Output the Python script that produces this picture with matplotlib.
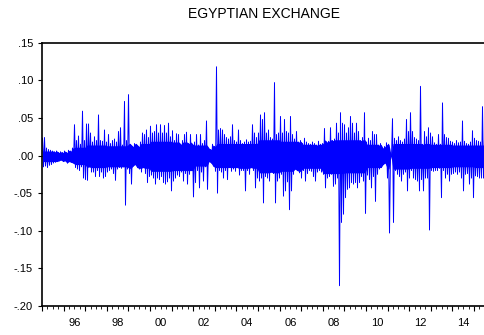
import numpy as np
import matplotlib
matplotlib.use("Agg")
import matplotlib.pyplot as plt
from matplotlib.ticker import MultipleLocator, NullFormatter

plt.rcParams['font.family'] = ['Liberation Sans', 'DejaVu Sans']

title = "EGYPTIAN EXCHANGE"

# Daily returns summarised as high / low per consecutive ~34-day window,
# starting January 1995.
start_year = 1995.0
window_years = 2 / 21.6

window_high = [
    # 1995 - 1997
    0.023, 0.024, 0.010, 0.008, 0.007, 0.006, 0.005, 0.006, 0.004, 0.005,
    0.004, 0.006, 0.004, 0.007, 0.006, 0.010, 0.041, 0.020, 0.026, 0.015,
    0.059, 0.020, 0.042, 0.042, 0.030, 0.018, 0.025, 0.020, 0.054, 0.020,
    0.019,
    # 1997 - 2000
    0.034, 0.018, 0.028, 0.016, 0.020, 0.022, 0.018, 0.032, 0.037, 0.014,
    0.072, 0.020, 0.081, 0.015, 0.012, 0.016, 0.015, 0.012, 0.018, 0.030,
    0.028, 0.034, 0.024, 0.039, 0.030, 0.032, 0.041, 0.030, 0.041, 0.030,
    0.040,
    # 2000 - 2003
    0.030, 0.043, 0.025, 0.033, 0.020, 0.029, 0.028, 0.015, 0.020, 0.028,
    0.031, 0.016, 0.028, 0.015, 0.018, 0.028, 0.014, 0.028, 0.016, 0.020,
    0.046, 0.010, 0.008, 0.015, 0.012, 0.118, 0.034, 0.036, 0.034, 0.028,
    0.024, 0.022,
    # 2003 - 2006
    0.025, 0.041, 0.020, 0.018, 0.034, 0.020, 0.016, 0.018, 0.021, 0.018,
    0.019, 0.041, 0.030, 0.024, 0.030, 0.054, 0.048, 0.057, 0.030, 0.034,
    0.024, 0.022, 0.097, 0.028, 0.030, 0.052, 0.030, 0.048, 0.032, 0.030,
    0.052, 0.028,
    # 2006 - 2009
    0.022, 0.032, 0.018, 0.020, 0.016, 0.023, 0.018, 0.016, 0.015, 0.018,
    0.016, 0.014, 0.019, 0.015, 0.016, 0.036, 0.018, 0.019, 0.037, 0.020,
    0.022, 0.043, 0.030, 0.057, 0.043, 0.041, 0.030, 0.037, 0.052, 0.043,
    0.030, 0.043,
    # 2009 - 2012
    0.032, 0.020, 0.024, 0.057, 0.018, 0.023, 0.020, 0.032, 0.028, 0.028,
    0.014, 0.016, 0.010, 0.012, 0.017, 0.015, 0.001, 0.049, 0.023, 0.020,
    0.025, 0.020, 0.018, 0.022, 0.048, 0.032, 0.057, 0.032, 0.024, 0.022,
    0.020, 0.092,
    # 2012 - 2015
    0.015, 0.032, 0.025, 0.037, 0.030, 0.025, 0.017, 0.015, 0.028, 0.015,
    0.070, 0.028, 0.024, 0.023, 0.019, 0.018, 0.016, 0.020, 0.017, 0.018,
    0.046, 0.019, 0.016, 0.015, 0.018, 0.033, 0.023, 0.020, 0.019, 0.018,
    0.065, 0.022,
]

window_low = [
    # 1995 - 1997
    -0.015, -0.014, -0.016, -0.013, -0.012, -0.010, -0.009, -0.008, -0.007, -0.006,
    -0.008, -0.007, -0.010, -0.008, -0.009, -0.010, -0.016, -0.018, -0.020, -0.015,
    -0.030, -0.032, -0.033, -0.015, -0.022, -0.022, -0.028, -0.020, -0.028, -0.022,
    -0.030,
    # 1997 - 2000
    -0.028, -0.022, -0.020, -0.018, -0.024, -0.033, -0.018, -0.016, -0.017, -0.015,
    -0.066, -0.018, -0.024, -0.038, -0.014, -0.012, -0.016, -0.018, -0.022, -0.016,
    -0.024, -0.036, -0.028, -0.026, -0.030, -0.038, -0.030, -0.032, -0.028, -0.036,
    -0.038,
    # 2000 - 2003
    -0.035, -0.030, -0.047, -0.034, -0.030, -0.026, -0.028, -0.022, -0.034, -0.024,
    -0.038, -0.025, -0.020, -0.055, -0.036, -0.020, -0.043, -0.022, -0.034, -0.015,
    -0.045, -0.008, -0.010, -0.014, -0.021, -0.050, -0.020, -0.022, -0.030, -0.020,
    -0.032, -0.016,
    # 2003 - 2006
    -0.021, -0.018, -0.021, -0.016, -0.026, -0.020, -0.020, -0.047, -0.020, -0.025,
    -0.016, -0.020, -0.043, -0.030, -0.034, -0.030, -0.063, -0.028, -0.030, -0.034,
    -0.022, -0.024, -0.063, -0.034, -0.030, -0.025, -0.054, -0.047, -0.035, -0.072,
    -0.047, -0.025,
    # 2006 - 2009
    -0.018, -0.020, -0.023, -0.030, -0.020, -0.034, -0.024, -0.020, -0.021, -0.028,
    -0.034, -0.022, -0.020, -0.022, -0.025, -0.043, -0.030, -0.028, -0.025, -0.041,
    -0.038, -0.030, -0.173, -0.089, -0.078, -0.056, -0.045, -0.043, -0.036, -0.038,
    -0.036, -0.043,
    # 2009 - 2012
    -0.036, -0.028, -0.034, -0.077, -0.026, -0.032, -0.043, -0.028, -0.061, -0.025,
    -0.018, -0.016, -0.012, -0.010, -0.030, -0.103, -0.001, -0.089, -0.020, -0.025,
    -0.028, -0.034, -0.025, -0.022, -0.047, -0.030, -0.020, -0.030, -0.032, -0.034,
    -0.047, -0.032,
    # 2012 - 2015
    -0.047, -0.030, -0.030, -0.099, -0.020, -0.021, -0.020, -0.020, -0.017, -0.056,
    -0.020, -0.030, -0.025, -0.034, -0.025, -0.024, -0.022, -0.025, -0.022, -0.030,
    -0.047, -0.025, -0.024, -0.038, -0.030, -0.056, -0.027, -0.028, -0.030, -0.030,
    -0.030, -0.022,
]

# Typical (dense) daily range for each calendar year 1995 - 2015
core_years = list(range(1995, 2016))
core_high = [0.006, 0.011, 0.014, 0.013, 0.016, 0.019, 0.018, 0.014, 0.016,
             0.016, 0.021, 0.019, 0.015, 0.021, 0.021, 0.015, 0.016, 0.016,
             0.015, 0.014, 0.014]
core_low = [-0.008, -0.012, -0.016, -0.015, -0.017, -0.021, -0.020, -0.014,
            -0.016, -0.017, -0.023, -0.021, -0.017, -0.024, -0.023, -0.016,
            -0.018, -0.017, -0.016, -0.015, -0.016]

y_ticks = [0.15, 0.10, 0.05, 0.00, -0.05, -0.10, -0.15, -0.20]
y_tick_labels = [".15", ".10", ".05", ".00", "-.05", "-.10", "-.15", "-.20"]
label_years = [1996, 1998, 2000, 2002, 2004, 2006, 2008, 2010, 2012, 2014]
x_tick_labels = ["96", "98", "00", "02", "04", "06", "08", "10", "12", "14"]

# Each window contributes its high then its low, giving the dense return trace.
n = len(window_high)
centers = start_year + (np.arange(n) + 0.5) * window_years
t = np.empty(2 * n)
v = np.empty(2 * n)
t[0::2] = centers - window_years / 4
t[1::2] = centers + window_years / 4
v[0::2] = window_high
v[1::2] = window_low

# Dense part of each window: the year's typical range, within the window's extremes
year_idx = (centers - core_years[0]).astype(int)
dense_hi = np.minimum(np.array(core_high)[year_idx], window_high)
dense_lo = np.maximum(np.array(core_low)[year_idx], window_low)

fig = plt.figure(figsize=(4.85, 3.35), dpi=100)
ax = fig.add_axes([42 / 485, 29 / 335, 445 / 485, 263.3 / 335])

blue = "#0000ff"
ax.fill_between(centers, dense_lo, dense_hi, color=blue, lw=0)
ax.plot(t, v, color=blue, lw=0.7)

ax.set_xlim(1995.0, 1995.0 + 445 / 21.6)
ax.set_ylim(-0.20, 0.15)

for side in ["left", "bottom", "top", "right"]:
    ax.spines[side].set_linewidth(1.2)
    ax.spines[side].set_color("black")

ax.set_yticks(y_ticks)
ax.set_yticklabels(y_tick_labels)
ax.tick_params(axis="y", direction="out", length=3, width=0.8,
               labelsize=8, pad=3.5)

# Year boundaries as major ticks, quarters as minor ticks
ax.xaxis.set_major_locator(MultipleLocator(1.0))
ax.xaxis.set_minor_locator(MultipleLocator(0.25))
ax.xaxis.set_major_formatter(NullFormatter())
ax.tick_params(axis="x", which="major", direction="out", length=3.5, width=0.8)
ax.tick_params(axis="x", which="minor", direction="out", length=2, width=0.6)

# Two-digit year labels centred in their year
sec = ax.secondary_xaxis("bottom")
sec.set_xticks([y + 0.5 for y in label_years])
sec.set_xticklabels(x_tick_labels)
sec.tick_params(length=0, labelsize=8, pad=8.5)
sec.spines["bottom"].set_visible(False)

ax.set_title(title, fontsize=10, pad=17.5)

fig.savefig("out.png", dpi=100)
